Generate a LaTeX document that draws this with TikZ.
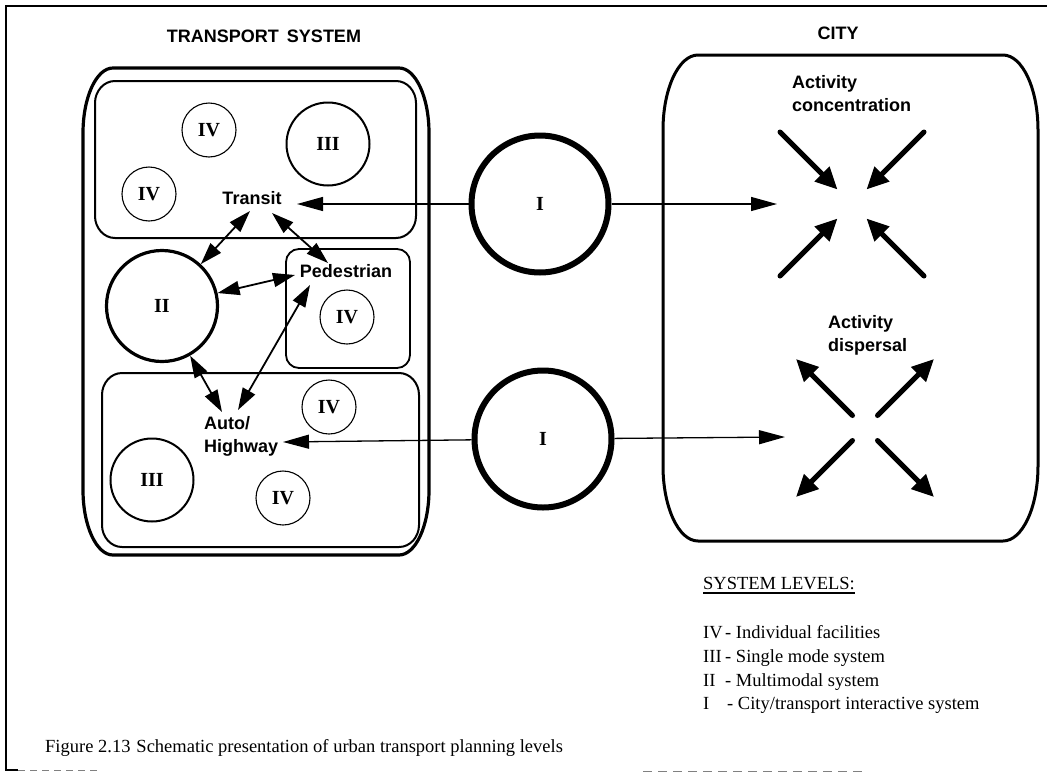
\documentclass[tikz,border=0pt]{standalone}
\usepackage{fontspec}
\setmainfont{Liberation Serif}
\newfontfamily\labelsans{Liberation Sans}
\usetikzlibrary{arrows.meta,calc}

% rounded panel with elliptical corners: #1 options, #2 left, #3 top, #4 right, #5 bottom, #6 x radius, #7 y radius
\newcommand\roundpanel[7]{%
  \draw[#1] ({#2+#6},#3) -- ({#4-#6},#3)
    .. controls ({#4-0.448*#6},#3) and (#4,{#3+0.448*#7}) .. (#4,{#3+#7})
    -- (#4,{#5-#7})
    .. controls (#4,{#5-0.448*#7}) and ({#4-0.448*#6},#5) .. ({#4-#6},#5)
    -- ({#2+#6},#5)
    .. controls ({#2+0.448*#6},#5) and (#2,{#5-0.448*#7}) .. (#2,{#5-#7})
    -- (#2,{#3+#7})
    .. controls (#2,{#3+0.448*#7}) and ({#2+0.448*#6},#3) .. cycle;}

\begin{document}
\begin{tikzpicture}[x=1pt,y=-1pt,
  frame/.style={line width=1.5pt},
  lbl/.style={font=\labelsans\bfseries\fontsize{18}{23}\selectfont, inner sep=0pt},
  lblblock/.style={lbl, align=left, anchor=north west},
  numeral/.style={font=\bfseries\fontsize{20}{22}\selectfont},
  lvlone/.style={circle, draw, line width=6pt, minimum size=137pt, inner sep=0pt, numeral},
  lvltwo/.style={circle, draw, line width=3.2pt, minimum size=111pt, inner sep=0pt, numeral},
  lvlthree/.style={circle, draw, line width=2pt, minimum size=83pt, inner sep=0pt, numeral},
  lvlfour/.style={circle, draw, line width=1.1pt, minimum size=54pt, inner sep=0pt, numeral},
  legend/.style={font=\fontsize{18.5}{22}\selectfont, inner sep=0pt},
  ptr/.style={-{Triangle[length=26pt,width=14pt]}, line width=1.3pt},
  dbl/.style={{Triangle[length=22pt,width=14pt]}-{Triangle[length=22pt,width=14pt]}, line width=1.8pt},
  heavy/.style={-{Triangle[length=22pt,width=20pt]}, line width=5pt, line cap=round}
]
\useasboundingbox (0,0) rectangle (1047,774);

% page frame
\draw[frame] (1047,6) -- (6,6) -- (6,770) -- (18,770);
\draw[gray, line width=1pt, dash pattern=on 7pt off 5pt] (18,770) -- (100,770);
\draw[gray, line width=1pt, dash pattern=on 9pt off 6pt] (643,771) -- (865,771);

% headings
\node[lbl, anchor=base] (tstitle) at (264,42.5) {TRANSPORT\hspace{8pt}SYSTEM};
\node[lbl, anchor=base] (citytitle) at (838,39.5) {CITY};

% transport system panels
\roundpanel{line width=3.2pt}{83}{68}{429}{555}{30}{65}
\roundpanel{line width=2pt}{95}{81}{416}{238}{20}{22}
\roundpanel{line width=1.8pt}{286}{249}{410}{368}{13}{13}
\roundpanel{line width=2pt}{102}{373}{419}{547}{20}{22}
% city panel
\roundpanel{line width=3pt}{663}{55}{1038}{541}{35}{75}

% system level circles
\node[lvlfour] (iva) at (209,130) {IV};
\node[lvlthree] (iiia) at (328,144) {III};
\node[lvlfour] (ivb) at (149,194) {IV};
\node[lvltwo] (II) at (162,306) {II};
\node[lvlfour] (ivc) at (347,317) {IV};
\node[lvlfour] (ivd) at (329,407) {IV};
\node[lvlthree] (iiib) at (152,480) {III};
\node[lvlfour] (ive) at (283,498) {IV};
\node[lvlone] (Ia) at (540,204) {I};
\node[lvlone] (Ib) at (543,439) {I};

% mode labels
\node[lbl] (transit) at (252,198) {Transit};
\node[lbl] (ped) at (346,271) {Pedestrian};
\node[lblblock] (auto) at (204,416) {Auto/\\Highway};
\node[lblblock] (concl) at (792,75.5) {Activity\\concentration};
\node[lblblock] (displ) at (828,315.5) {Activity\\dispersal};
\coordinate (conc) at (852,204);
\coordinate (disp) at (865,428);

% city/transport interaction
\draw[ptr] (Ia) -- ([shift={(45,6)}]transit.center);
\draw[ptr] (Ia) -- ([shift={(-75,0)}]conc);
\draw[ptr] (Ib) -- ([shift={(79,26)}]auto.north west);
\draw[ptr] (Ib) -- ([shift={(-80,9)}]disp);

% multimodal links
\draw[dbl] ([shift={(-2,13)}]transit.center) -- (II);
\draw[dbl] ([shift={(20,15)}]transit.center) -- ([shift={(-18,-8)}]ped.center);
\draw[dbl] (II) -- ([shift={(-51,4)}]ped.center);
\draw[dbl] ([shift={(-36,14)}]ped.center) -- ([shift={(34,-6)}]auto.north west);
\draw[dbl] (II) -- ([shift={(18,-4)}]auto.north west);

% activity concentration and dispersal
\foreach \sx/\sy in {-1/-1,1/-1,-1/1,1/1} {
  \draw[heavy] ([shift={(\sx*72,\sy*72)}]conc) -- ([shift={(\sx*14.5,\sy*14.5)}]conc);
  \draw[heavy] ([shift={(\sx*12.5,\sy*12.5)}]disp) -- ([shift={(\sx*69,\sy*69)}]disp);
}

% legend
\node[legend, anchor=base west] (lvlhead) at (703,589) {SYSTEM LEVELS:};
\draw[line width=1.4pt] ([yshift=-4pt]lvlhead.base west) -- ([yshift=-4pt]lvlhead.base east);
\node[legend, anchor=base west] (nfour) at (703,638) {IV};
\node[legend, anchor=base west] (tfour) at (725,638) {- Individual facilities};
\node[legend, anchor=base west] (nthree) at (703,662) {III};
\node[legend, anchor=base west] (tthree) at (725,662) {- Single mode system};
\node[legend, anchor=base west] (ntwo) at (703,686) {II};
\node[legend, anchor=base west] (ttwo) at (725,686) {- Multimodal system};
\node[legend, anchor=base west] (none) at (703,709) {I};
\node[legend, anchor=base west] (tone) at (727,709) {- City/transport interactive system};

% caption
\node[legend, anchor=base west] (caption) at (45,752) {Figure 2.13\hspace{6pt}Schematic presentation of urban transport planning levels};
\end{tikzpicture}
\end{document}
